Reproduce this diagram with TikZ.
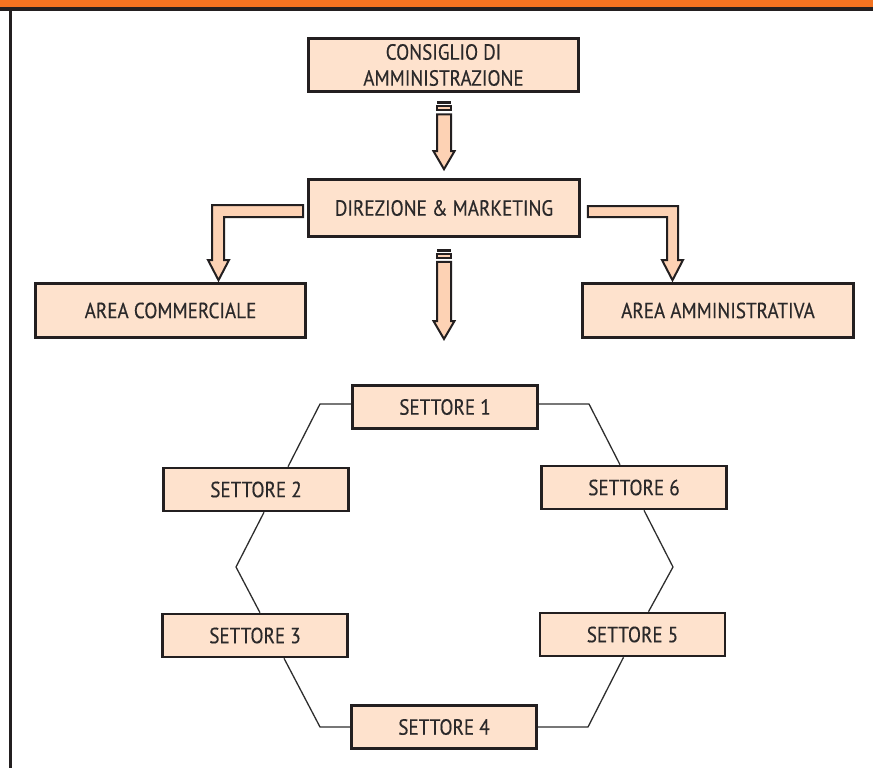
\documentclass[tikz,border=0pt]{standalone}
\usepackage{fontspec}
\setmainfont[FakeStretch=0.87,FakeBold=0.4]{PT Sans}
\usetikzlibrary{calc}
\definecolor{barorange}{HTML}{F47321}
\definecolor{boxfill}{HTML}{FEE2CD}
\definecolor{arrowfill}{HTML}{FDD2B4}
\definecolor{border}{HTML}{231F20}
\definecolor{txt}{HTML}{2B292A}
\definecolor{conn}{HTML}{2E2E2E}
\tikzset{
  orgbox/.style={draw=border, line width=2.6pt, fill=boxfill, text=txt,
    inner sep=0pt, align=center, font=\fontsize{22}{26}\selectfont},
  bigbox/.style={orgbox, minimum width=270pt, minimum height=54pt},
  sectbox/.style={orgbox, minimum width=185pt, minimum height=43pt},
  blockarrow/.style={draw=border, line width=2pt, fill=arrowfill, line join=miter},
  link/.style={draw=conn, line width=1.3pt}
}
\newcommand{\vArrow}[2]{%
  \draw[blockarrow] ($(#1)+(-7,0)$) -- ($(#2)+(-7,-18)$) -- ($(#2)+(-10.5,-18)$) -- (#2)
    -- ($(#2)+(10.5,-18)$) -- ($(#2)+(7,-18)$) -- ($(#1)+(7,0)$) -- cycle;
  \fill[border] ($(#1)+(-7,-13)$) rectangle ($(#1)+(7,-10)$);
  \draw[blockarrow] ($(#1)+(-7,-8)$) rectangle ($(#1)+(7,-4)$);
}
\begin{document}
\begin{tikzpicture}[x=1pt,y=-1pt]
\useasboundingbox (0,0) rectangle (873,768);
% frame
\fill[barorange] (0,0) rectangle (873,8);
\draw[border, line width=3.5pt] (0,9) -- (873,9);
\draw[border, line width=3pt] (10.5,8) -- (10.5,768);

% boxes
\node[bigbox, minimum height=53pt] (cda) at (443.5,65) {CONSIGLIO DI\\AMMINISTRAZIONE};
\node[bigbox, minimum height=57pt, minimum width=271pt] (dir) at (444,208) {DIREZIONE \& MARKETING};
\node[bigbox] (com) at (170.5,310.5) {AREA COMMERCIALE};
\node[bigbox, minimum width=271pt] (adm) at (718,310.5) {AREA AMMINISTRATIVA};

\node[sectbox] (s1) at (445,407) {SETTORE 1};
\node[sectbox] (s2) at (256,489.5) {SETTORE 2};
\node[sectbox] (s3) at (255,635.5) {SETTORE 3};
\node[sectbox] (s4) at (444,727) {SETTORE 4};
\node[sectbox] (s5) at (632.5,634.5) {SETTORE 5};
\node[sectbox] (s6) at (634,487.5) {SETTORE 6};

% vertical block arrows
\coordinate (a1top) at ($(cda.south)+(0.5,21.5)$);
\coordinate (a1tip) at ($(dir.north)+(0,-9)$);
\vArrow{a1top}{a1tip}
\coordinate (a2top) at ($(dir.south)+(0,24)$);
\coordinate (a2tip) at (444,339);
\vArrow{a2top}{a2tip}

% L-shaped block arrows
\coordinate (ltip) at ($(com.north)+(48,-2)$);
\draw[blockarrow] ($(dir.west)+(-4,-3)$) -- (212,205) -- (212,260) -- (208,260) -- (ltip)
  -- (229,260) -- (224,260) -- (224,217) -- ($(dir.west)+(-4,9)$) -- cycle;
\coordinate (rtip) at ($(adm.north)+(-45.5,-2)$);
\draw[blockarrow] ($(dir.east)+(7,-2)$) -- (678,206) -- (678,260) -- (683,260) -- (rtip)
  -- (662,260) -- (667,260) -- (667,217) -- ($(dir.east)+(7,9)$) -- cycle;

% ring of sectors
\coordinate (b12) at (320,404);
\coordinate (b23) at (236,567);
\coordinate (b34) at (320,727);
\coordinate (b45) at (588,727);
\coordinate (b56) at (673,567);
\coordinate (b61) at (589,404);
\draw[link] ($(s1.west)+(0,-3)$) -- (b12) -- ($(s2.north)+(32,0)$);
\draw[link] ($(s2.south)+(8,0)$) -- (b23) -- ($(s3.north)+(5,0)$);
\draw[link] ($(s3.south)+(29,0)$) -- (b34) -- (s4.west);
\draw[link] (s4.east) -- (b45) -- ($(s5.south)+(-9,0)$);
\draw[link] ($(s5.north)+(16,0)$) -- (b56) -- ($(s6.south)+(10,0)$);
\draw[link] ($(s6.north)+(-14,0)$) -- (b61) -- ($(s1.east)+(0,-3)$);
\end{tikzpicture}
\end{document}
